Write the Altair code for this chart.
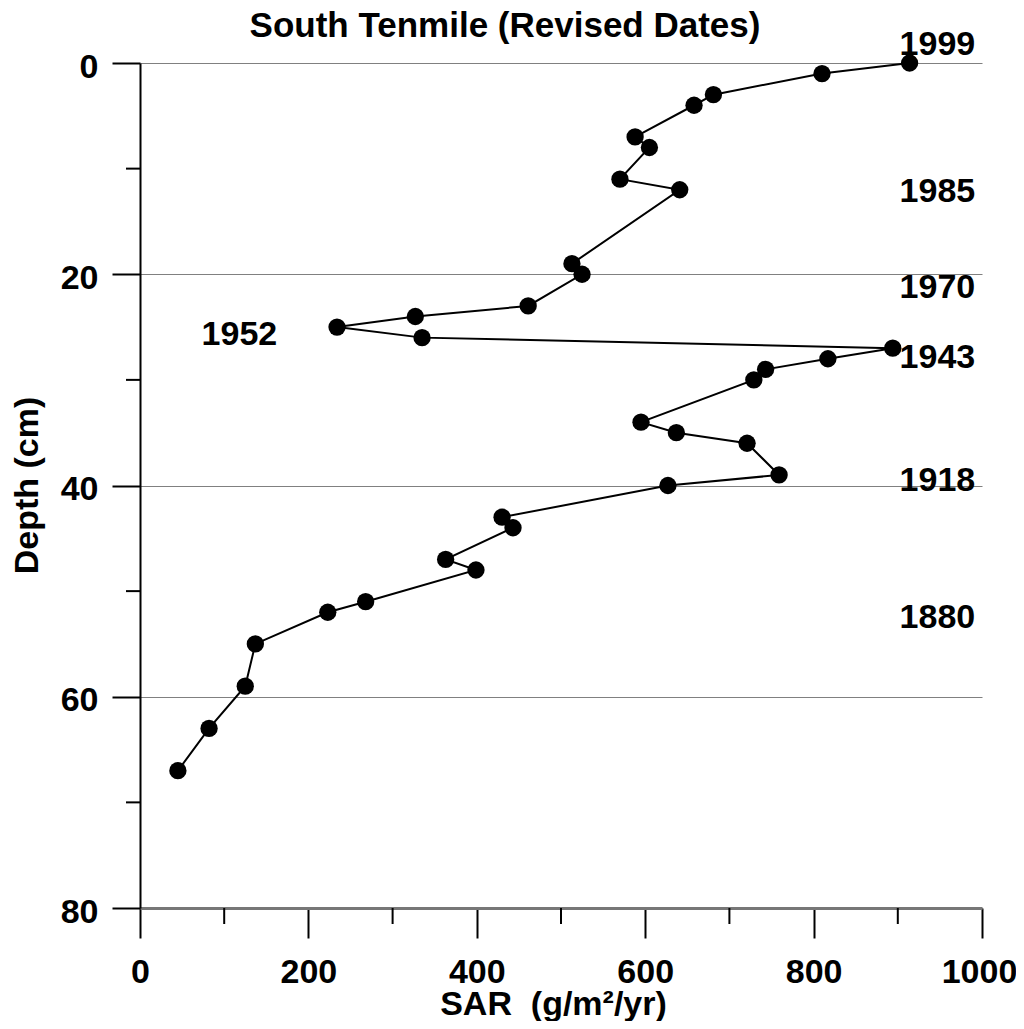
import altair as alt
import pandas as pd

# Data
depth = [0, 1, 3, 4, 7, 8, 11, 12, 19, 20, 23, 24, 25, 26, 27, 28, 29, 30,
         34, 35, 36, 39, 40, 43, 44, 47, 48, 51, 52, 55, 59, 63, 67]
sar = [914, 810, 681, 658, 588, 605, 570, 641, 513, 525, 461, 327, 234, 335,
       894, 817, 743, 729, 595, 637, 721, 759, 627, 430, 443, 363, 399, 268,
       223, 137, 125, 82, 45]

years = ["1999", "1985", "1970", "1952", "1943", "1918", "1880"]
year_sar = [992, 992, 992, 163, 992, 992, 992]
year_depth = [-0.76, 13.16, 22.25, 26.7, 28.9, 40.5, 53.5]

x_major = [0, 200, 400, 600, 800, 1000]
x_minor = [100, 300, 500, 700, 900]
y_major = [0, 20, 40, 60, 80]
y_minor = [10, 30, 50, 70]

title_text = ["South Tenmile (Revised Dates)"]

FONT = "Liberation Sans"

df = pd.DataFrame({"depth": depth, "sar": sar})
yr = pd.DataFrame({"year": years, "sar": year_sar, "depth": year_depth})
xm = pd.DataFrame({"v": x_minor})
ym = pd.DataFrame({"v": y_minor})
tt = pd.DataFrame({"t": title_text})

xscale = alt.Scale(domain=[0, 1000], nice=False, zero=False)
yscale = alt.Scale(domain=[0, 80], reverse=True, nice=False, zero=False)

xaxis = alt.Axis(
    values=x_major, format="d", tickSize=30, tickWidth=2, tickColor="black",
    labelPadding=44, labelBaseline="alphabetic", labelFontSize=34,
    labelOffset={"condition": {"test": "datum.value == 1000", "value": -3}, "value": 0},
    labelFont=FONT, labelFontWeight="bold", labelColor="black",
    labelFlush=False, labelOverlap=False,
    domainColor="#777777", domainWidth=3, grid=False,
    title="SAR \u00a0(g/m²/yr)", titleX=413, titleY=106, titleBaseline="alphabetic",
    titleAlign="center", titleFontSize=34, titleFont=FONT,
    titleFontWeight="bold", titleColor="black",
)
yaxis = alt.Axis(
    values=y_major, format="d", tickSize=28, tickWidth=2, tickColor="black",
    labelPadding=14, labelBaseline="alphabetic", labelOffset=14,
    labelFontSize=34, labelFont=FONT, labelFontWeight="bold",
    labelColor="black", labelFlush=False, labelOverlap=False,
    domainColor="black", domainWidth=2,
    grid=True, gridColor="#808080", gridWidth=1,
    title="Depth (cm)", titleX=-103, titleY=422, titleAngle=270,
    titleBaseline="alphabetic", titleAlign="center", titleFontSize=34,
    titleFont=FONT, titleFontWeight="bold", titleColor="black",
)

line = alt.Chart(df).mark_line(color="black", strokeWidth=2).encode(
    x=alt.X("sar:Q", scale=xscale, axis=xaxis),
    y=alt.Y("depth:Q", scale=yscale, axis=yaxis),
    order=alt.Order("depth:Q"),
)
pts = alt.Chart(df).mark_circle(size=300, color="black", opacity=1).encode(
    x=alt.X("sar:Q", scale=xscale),
    y=alt.Y("depth:Q", scale=yscale),
)
labels = alt.Chart(yr).mark_text(
    font=FONT, fontSize=34, fontWeight="bold", color="black",
    align="right", baseline="alphabetic",
).encode(
    x=alt.X("sar:Q", scale=xscale),
    y=alt.Y("depth:Q", scale=yscale),
    text="year:N",
)
xminor = alt.Chart(xm).mark_rule(color="black", strokeWidth=2).encode(
    x=alt.X("v:Q", scale=xscale),
    y=alt.value(845), y2=alt.value(861),
)
yminor = alt.Chart(ym).mark_rule(color="black", strokeWidth=2).encode(
    y=alt.Y("v:Q", scale=yscale),
    x=alt.value(-14), x2=alt.value(0),
)
title = alt.Chart(tt).mark_text(
    font=FONT, fontSize=35, fontWeight="bold", color="black",
    align="center", baseline="alphabetic",
).encode(x=alt.value(365), y=alt.value(-26), text="t:N")

chart = alt.layer(line, pts, labels, xminor, yminor, title).properties(
    width=842, height=845,
    autosize=alt.AutoSizeParams(type="none"),
    padding={"left": 132, "top": 55, "right": 34, "bottom": 113},
    background="white",
).configure_view(stroke=None)

chart.save("out.html", embed_options={"renderer": "svg", "actions": False})
